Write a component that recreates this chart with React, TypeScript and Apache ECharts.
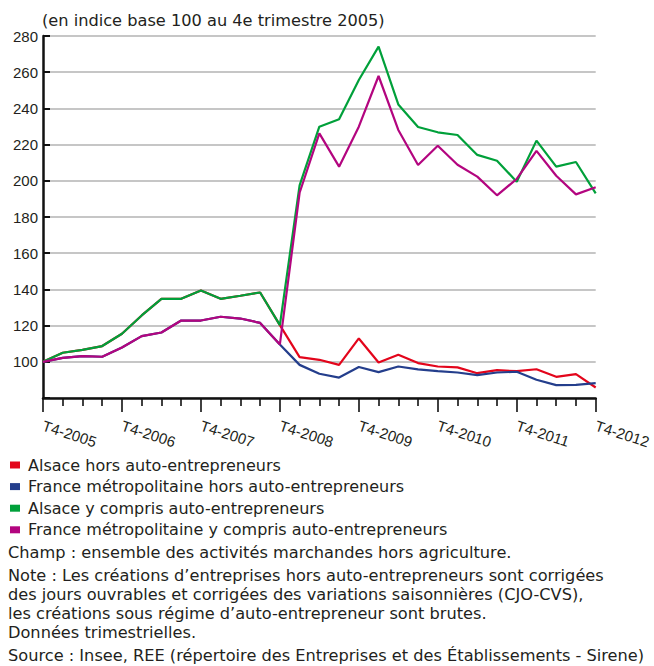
import React, { useEffect, useRef } from "react";
import * as echarts from "echarts";

const quarters = [
  "T4-2005", "T1-2006", "T2-2006", "T3-2006", "T4-2006", "T1-2007", "T2-2007", "T3-2007",
  "T4-2007", "T1-2008", "T2-2008", "T3-2008", "T4-2008", "T1-2009", "T2-2009", "T3-2009",
  "T4-2009", "T1-2010", "T2-2010", "T3-2010", "T4-2010", "T1-2011", "T2-2011", "T3-2011",
  "T4-2011", "T1-2012", "T2-2012", "T3-2012", "T4-2012",
];

const seriesNames = [
  "Alsace hors auto-entrepreneurs",
  "France métropolitaine hors auto-entrepreneurs",
  "Alsace y compris auto-entrepreneurs",
  "France métropolitaine y compris auto-entrepreneurs",
];

const alsaceHors = [
  100, 105, 106.6, 108.7, 115.5, 125.6, 134.8, 134.8, 139.4, 134.8, 136.5, 138.3, 120.3,
  102.6, 101.1, 98.3, 112.9, 99.6, 103.9, 99.3, 97.4, 96.9, 93.7, 95.4, 94.8, 95.9, 91.7, 93.2, 85.8,
];
const franceHors = [
  100, 102.2, 103.1, 102.8, 107.9, 114.2, 116.2, 122.8, 122.8, 124.9, 123.9, 121.5, 109.6,
  98.3, 93.4, 91.3, 97.1, 94.3, 97.4, 95.8, 94.8, 94.1, 92.6, 94.1, 94.5, 90.1, 87.1, 87.3, 88.2,
];
const alsaceAvec = [
  100, 105, 106.6, 108.7, 115.5, 125.6, 134.8, 134.8, 139.4, 134.8, 136.5, 138.3, 120.3,
  197.5, 229.9, 234, 255.7, 274.1, 242.2, 229.7, 226.8, 225.3, 214.3, 211.1, 199.5, 222.2, 207.8, 210.4, 193.1,
];
const franceAvec = [
  100, 102.2, 103.1, 102.8, 107.9, 114.2, 116.2, 122.8, 122.8, 124.9, 123.9, 121.5, 109.6,
  193.4, 226.2, 207.8, 229.9, 257.9, 228.1, 208.7, 219.4, 208.9, 202.3, 192, 201, 216.5, 202.8, 192.5, 196.4,
];

const colors = ["#e3051b", "#243e8c", "#00a03a", "#b3057f"];

const titleText = "(en indice base 100 au 4e trimestre 2005)";
const noteLines = [
  { text: "Champ : ensemble des activités marchandes hors agriculture.", y: 552 },
  { text: "Note : Les créations d’entreprises hors auto-entrepreneurs sont corrigées", y: 575 },
  { text: "des jours ouvrables et corrigées des variations saisonnières (CJO-CVS),", y: 594 },
  { text: "les créations sous régime d’auto-entrepreneur sont brutes.", y: 613 },
  { text: "Données trimestrielles.", y: 632 },
  { text: "Source : Insee, REE (répertoire des Entreprises et des Établissements - Sirene)", y: 655 },
];

const TEXT_COLOR = "#231f20";

export default function App() {
  const ref = useRef<HTMLDivElement>(null);
  useEffect(() => {
    if (!ref.current) return;
    const chart = echarts.init(ref.current, undefined, { renderer: "svg" });
    const allData = [alsaceHors, franceHors, alsaceAvec, franceAvec];
    chart.setOption({
      animation: false,
      backgroundColor: "#ffffff",
      grid: { left: 43, right: 57, top: 36, bottom: 268 },
      legend: {
        orient: "vertical",
        left: 10,
        top: 457,
        padding: 0,
        itemWidth: 10,
        itemHeight: 7,
        itemGap: 5.6,
        icon: "rect",
        selectedMode: false,
        textStyle: {
          fontFamily: "DejaVu Sans",
          fontSize: 16,
          color: TEXT_COLOR,
          padding: [0, 0, 0, 3],
        },
        data: seriesNames,
      },
      xAxis: {
        type: "value",
        min: 0,
        max: quarters.length - 1,
        interval: 4,
        axisLine: { show: true, lineStyle: { color: "#111", width: 2.5 } },
        axisTick: { show: true, length: 14, lineStyle: { color: "#111", width: 1.6 } },
        minorTick: { show: true, splitNumber: 4, length: 8, lineStyle: { color: "#111", width: 1.6 } },
        splitLine: { show: false },
        axisLabel: {
          rotate: -18,
          margin: 27,
          fontFamily: "Liberation Sans, Arial",
          fontSize: 15,
          color: TEXT_COLOR,
          formatter: (v: number) => quarters[v] ?? "",
        },
      },
      yAxis: {
        type: "value",
        min: 80,
        max: 280,
        interval: 20,
        axisLine: { show: true, lineStyle: { color: "#111", width: 2.5 } },
        axisTick: { show: true, inside: true, length: 7, lineStyle: { color: "#111", width: 2 } },
        splitLine: { show: true, lineStyle: { color: "#b3b3b3", width: 1.5 } },
        axisLabel: {
          margin: 5,
          fontFamily: "Liberation Sans, Arial",
          fontSize: 15,
          color: TEXT_COLOR,
          padding: [0, 0, 8, 0],
          formatter: (v: number) => (v === 80 ? "" : String(v)),
        },
      },
      series: seriesNames.map((name, k) => ({
        name,
        type: "line",
        data: allData[k].map((v, i) => [i, v]),
        symbol: "none",
        color: colors[k],
        lineStyle: { color: colors[k], width: 2.2 },
        z: 2 + k,
      })),
      graphic: [
        {
          type: "text",
          left: 42,
          top: 12,
          style: { text: titleText, fontFamily: "DejaVu Sans", fontSize: 16.2, fill: TEXT_COLOR },
        },
        ...noteLines.map((l) => ({
          type: "text",
          x: 8,
          y: l.y,
          style: {
            text: l.text,
            fontFamily: "DejaVu Sans",
            fontSize: 16.2,
            fill: TEXT_COLOR,
            verticalAlign: "middle",
          },
        })),
      ],
    });
    return () => chart.dispose();
  }, []);
  return (
    <div
      ref={ref}
      style={{ position: "fixed", left: 0, top: 0, width: 654, height: 666, background: "#fff" }}
    />
  );
}
